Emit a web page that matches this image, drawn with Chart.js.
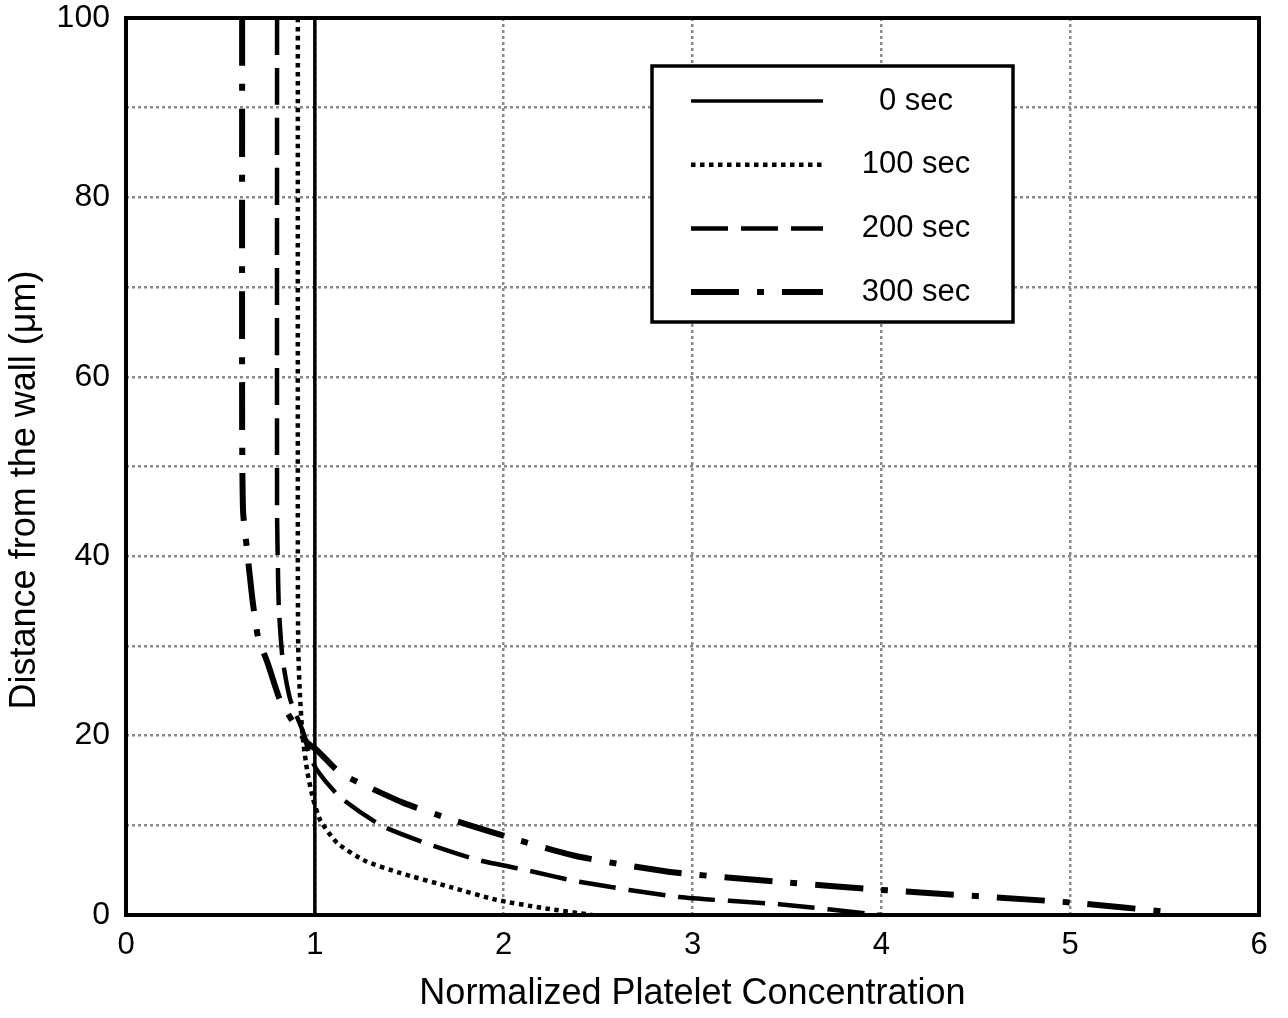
<!DOCTYPE html>
<html>
<head>
<meta charset="utf-8">
<script src="https://cdn.jsdelivr.net/npm/chart.js@4.4.1/dist/chart.umd.min.js"></script>
<style>
    html, body { margin: 0; padding: 0; background: #fff; }
    #wrap { width: 1288px; height: 1018px; }
</style>
</head>
<body>
<div id="wrap"><canvas id="profileChart" width="1288" height="1018"></canvas></div>
<script>
// ------------------------------
// Data
// ------------------------------
const seriesLabels = ["0 sec", "100 sec", "200 sec", "300 sec"];
const xTitle = "Normalized Platelet Concentration";
const yTitle = "Distance from the wall (\u03bcm)";

const conc0 = [1, 1];
const dist0 = [0, 100];

const conc100 = [0.91, 0.91, 0.912, 0.92, 0.935, 0.96, 0.99, 1.03, 1.12, 1.27, 1.45, 1.72, 1.96, 2.2, 2.47];
const dist100 = [100, 40, 30, 25, 20, 16, 13, 10.5, 8, 6, 4.7, 3.1, 1.7, 0.8, 0];

const conc200 = [0.80, 0.80, 0.805, 0.81, 0.83, 0.87, 0.94, 0.97, 1.01, 1.13, 1.35, 1.59, 1.87, 2.12, 2.40, 2.93, 3.46, 4.0];
const dist200 = [100, 45, 38, 34, 28.4, 24, 20.3, 18, 16.2, 13.2, 10, 8, 6.1, 5.0, 3.7, 2.0, 1.2, 0];

const conc300 = [0.615, 0.615, 0.62, 0.64, 0.67, 0.70, 0.75, 0.815, 0.885, 0.96, 1.01, 1.13, 1.24, 1.47, 1.70, 2.02, 2.40, 2.88, 3.46, 4.0, 5.0, 5.54];
const dist300 = [100, 55, 45, 40.9, 35.1, 30.9, 28.1, 24, 21.5, 19.2, 18.4, 15.9, 14.7, 12.5, 10.8, 8.7, 6.5, 4.8, 3.7, 2.8, 1.4, 0.3];

const xTicks = [0, 1, 2, 3, 4, 5, 6];
const yLabelTicks = [0, 20, 40, 60, 80, 100];

function toPoints(xs, ys) {
    return xs.map((x, i) => ({ x: x, y: ys[i] }));
}

const FONT = "'Liberation Sans', Arial, Helvetica, sans-serif";

// ------------------------------
// Frame, y title + inset legend
// ------------------------------
const framePlugin = {
    id: "frame",
    afterDatasetsDraw(chart) {
        const { ctx, chartArea: a } = chart;
        ctx.save();
        ctx.strokeStyle = "#000";
        ctx.lineWidth = 4;
        ctx.strokeRect(a.left, a.top, a.right - a.left, a.bottom - a.top);
        ctx.restore();
    }
};

const yTitlePlugin = {
    id: "yTitle",
    afterDraw(chart) {
        const ctx = chart.ctx;
        ctx.save();
        ctx.translate(25, 490);
        ctx.rotate(-Math.PI / 2);
        ctx.fillStyle = "#000";
        ctx.font = "36px " + FONT;
        ctx.textAlign = "center";
        ctx.textBaseline = "middle";
        ctx.fillText(yTitle, 0, 0);
        ctx.restore();
    }
};

const insetLegend = {
    id: "insetLegend",
    afterDraw(chart) {
        const ctx = chart.ctx;
        const box = { left: 652, top: 66, right: 1013, bottom: 322 };
        ctx.save();
        ctx.fillStyle = "#fff";
        ctx.fillRect(box.left, box.top, box.right - box.left, box.bottom - box.top);
        ctx.strokeStyle = "#000";
        ctx.lineWidth = 3.5;
        ctx.strokeRect(box.left, box.top, box.right - box.left, box.bottom - box.top);

        chart.data.datasets.forEach((ds, i) => {
            const y = 101 + i * 63.7;
            ctx.beginPath();
            ctx.setLineDash(ds.borderDash || []);
            ctx.lineWidth = ds.borderWidth;
            ctx.strokeStyle = ds.borderColor;
            ctx.moveTo(691, y);
            ctx.lineTo(823, y);
            ctx.stroke();

            ctx.setLineDash([]);
            ctx.fillStyle = "#000";
            ctx.font = "31px " + FONT;
            ctx.textAlign = "center";
            ctx.textBaseline = "middle";
            ctx.fillText(ds.label, 916, y);
        });
        ctx.restore();
    }
};

// ------------------------------
// Chart
// ------------------------------
const ctx = document.getElementById("profileChart").getContext("2d");

const gridStyle = {
    drawTicks: false,
    color: "#8a8a8a",
    lineWidth: 2.5
};

new Chart(ctx, {
    type: "line",
    data: {
        datasets: [
            {
                label: seriesLabels[0],
                data: toPoints(conc0, dist0),
                borderColor: "#000",
                borderWidth: 3.5,
                borderDash: []
            },
            {
                label: seriesLabels[1],
                data: toPoints(conc100, dist100),
                borderColor: "#000",
                borderWidth: 4.5,
                borderDash: [4.5, 4.5]
            },
            {
                label: seriesLabels[2],
                data: toPoints(conc200, dist200),
                borderColor: "#000",
                borderWidth: 4.5,
                borderDash: [37, 13]
            },
            {
                label: seriesLabels[3],
                data: toPoints(conc300, dist300),
                borderColor: "#000",
                borderWidth: 6,
                borderDash: [48, 18, 7, 18]
            }
        ]
    },
    options: {
        responsive: false,
        animation: false,
        devicePixelRatio: 1,
        layout: { padding: { top: 18, right: 29, left: 0, bottom: 0 } },
        elements: {
            point: { radius: 0 },
            line: { tension: 0.2, borderCapStyle: "butt", fill: false }
        },
        plugins: {
            legend: { display: false },
            tooltip: { enabled: false }
        },
        scales: {
            x: {
                type: "linear",
                min: 0,
                max: 6,
                afterBuildTicks: s => { s.ticks = xTicks.map(v => ({ value: v })); },
                afterFit: s => { s.height = 103; s.paddingLeft = 0; s.paddingRight = 0; },
                border: { display: false, dash: [3, 3] },
                grid: gridStyle,
                ticks: {
                    padding: 12,
                    color: "#000",
                    font: { family: FONT, size: 31 },
                    maxRotation: 0
                },
                title: {
                    display: true,
                    text: xTitle,
                    color: "#000",
                    font: { family: FONT, size: 36 },
                    padding: { top: 0, bottom: 2 }
                }
            },
            y: {
                type: "linear",
                min: 0,
                max: 100,
                ticks: {
                    stepSize: 10,
                    padding: 16,
                    color: "#000",
                    font: { family: FONT, size: 32 },
                    callback: v => (yLabelTicks.includes(v) ? String(v) : "")
                },
                afterFit: s => { s.width = 126; s.paddingTop = 0; s.paddingBottom = 0; },
                border: { display: false, dash: [3, 3] },
                grid: gridStyle,
                title: { display: false }
            }
        }
    },
    plugins: [framePlugin, yTitlePlugin, insetLegend]
});
</script>
</body>
</html>
